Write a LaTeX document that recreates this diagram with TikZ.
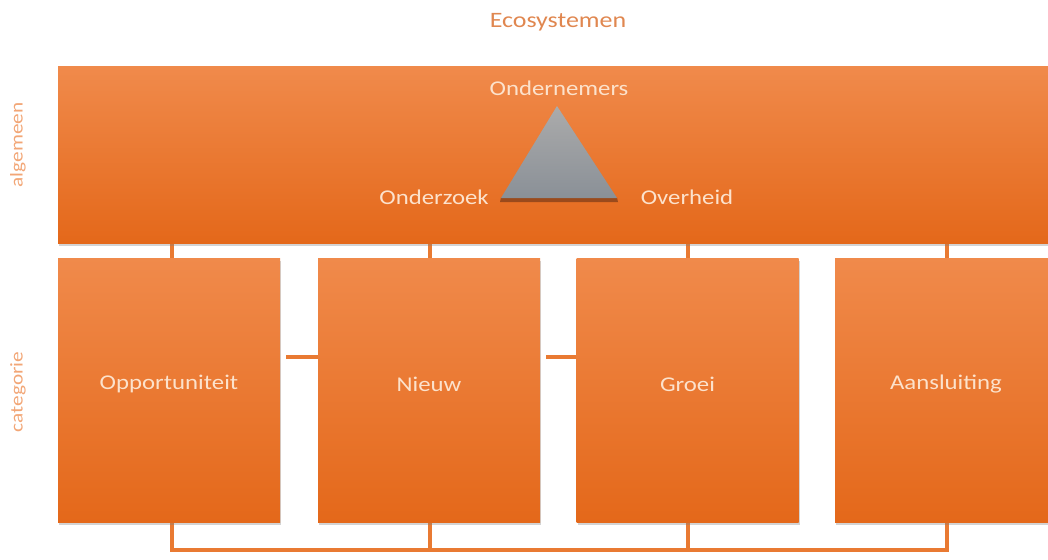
\documentclass[tikz,border=0pt]{standalone}
\usepackage{fontspec}
\setmainfont[FakeStretch=1.18]{Carlito}
\usetikzlibrary{shadows}
\definecolor{boxtop}{HTML}{F08A4B}
\definecolor{boxbot}{HTML}{E4681A}
\definecolor{conncol}{HTML}{E97A32}
\definecolor{lbltxt}{HTML}{FCE2CC}
\definecolor{titlecol}{HTML}{E08750}
\definecolor{sidecol}{HTML}{F2A676}
\definecolor{tritop}{HTML}{ABABAB}
\definecolor{tribot}{HTML}{8A9097}
\definecolor{trishadow}{HTML}{7A3A18}
\begin{document}
\begin{tikzpicture}[x=1pt,y=-1pt,
  orangebox/.style={rectangle, inner sep=0pt, top color=boxtop, bottom color=boxbot,
    draw=none, drop shadow={opacity=0.35, shadow xshift=1pt, shadow yshift=-2.5pt}},
  catbox/.style={orangebox, minimum width=222pt, minimum height=264pt},
  conn/.style={draw=conncol, line width=4pt},
  lbl/.style={text=lbltxt, font=\fontsize{21}{24}\selectfont},
  boxlbl/.style={text=lbltxt, font=\fontsize{21}{24}\selectfont},
  side/.style={text=sidecol, font=\fontsize{18}{22}\selectfont, rotate=90}
]
\useasboundingbox (0,0) rectangle (1048,559);
% title
\node[text=titlecol, font=\fontsize{22}{26}\selectfont] (title) at (558,22) {Ecosystemen};
% side labels
\node[side] (alg) at (18,145) {algemeen};
\node[side] (cat) at (18,392) {categorie};
% geometry helpers
\path (553,155) node[minimum width=990pt, minimum height=176pt, inner sep=0pt] (top) {};
\path (169,390) node[minimum width=222pt, minimum height=264pt, inner sep=0pt] (b1) {};
\path (429,390) node[minimum width=222pt, minimum height=264pt, inner sep=0pt] (b2) {};
\path (687.5,390) node[minimum width=222pt, minimum height=264pt, inner sep=0pt] (b3) {};
\path (946,390) node[minimum width=222pt, minimum height=264pt, inner sep=0pt] (b4) {};
% connectors
\draw[conn] ([xshift=3pt]b1.north) -- ([xshift=3pt]b1.north |- top.south);
\draw[conn] ([xshift=1pt]b2.north) -- ([xshift=1pt]b2.north |- top.south);
\draw[conn] (b3.north) -- (b3.north |- top.south);
\draw[conn] ([xshift=1pt]b4.north) -- ([xshift=1pt]b4.north |- top.south);
\draw[conn] ([xshift=6pt,yshift=33pt]b1.east) -- ([yshift=33pt]b2.west);
\draw[conn] ([xshift=6pt,yshift=33pt]b2.east) -- ([yshift=33pt]b3.west);
\draw[conn] ([xshift=3pt]b1.south) -- ++(0,28) -| ([xshift=1pt]b4.south);
\draw[conn] ([xshift=1pt]b2.south) -- ++(0,28);
\draw[conn] (b3.south) -- ++(0,28);
% boxes
\node[orangebox, minimum width=990pt, minimum height=176pt] (topbar) at (553,155) {};
\node[catbox] (c1) at (169,390) {};
\node[catbox] (c2) at (429,390) {};
\node[catbox] (c3) at (687.5,390) {};
\node[catbox] (c4) at (946,390) {};
\node[boxlbl] (t1) at ([yshift=6pt]c1.center) {Opportuniteit};
\node[boxlbl] (t2) at ([yshift=6pt]c2.center) {Nieuw};
\node[boxlbl] (t3) at ([yshift=6pt]c3.center) {Groei};
\node[boxlbl] (t4) at ([yshift=6pt]c4.center) {Aansluiting};
% triangle
\coordinate (apex) at (557,106);
\coordinate (bl) at (501,198);
\coordinate (br) at (617,198);
\fill[trishadow, opacity=0.7] ([yshift=-4pt,xshift=-1pt]bl) -- ([yshift=-4pt,xshift=1pt]br) -- ([yshift=0.5pt]br) -- ([yshift=0.5pt]bl) -- cycle;
\shade[top color=tritop, bottom color=tribot] (apex) -- (br) -- (bl) -- cycle;
% triangle labels
\node[lbl] (ond) at (559,88) {Ondernemers};
\node[lbl] (onz) at (434,197) {Onderzoek};
\node[lbl] (ovh) at (687,197) {Overheid};
\end{tikzpicture}
\end{document}
